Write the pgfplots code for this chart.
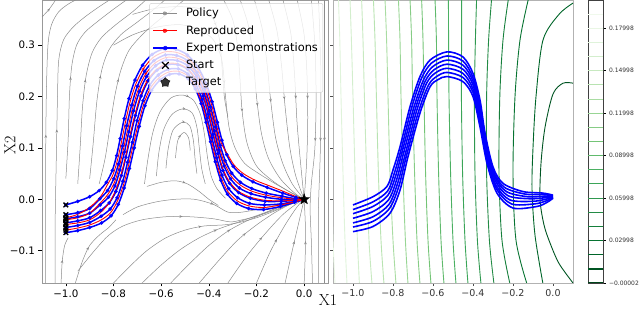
\documentclass[border=0pt]{standalone}
\usepackage{pgfplots}
\pgfplotsset{compat=1.18}
\usepackage{fontspec}
\newfontfamily\dejavu{DejaVu Sans}
\usetikzlibrary{decorations.markings,arrows.meta}

\pgfdeclareplotmark{fstar}{%
 \pgfpathmoveto{\pgfpointpolar{90}{\pgfplotmarksize}}%
 \pgfpathlineto{\pgfpointpolar{126}{0.42\pgfplotmarksize}}%
 \pgfpathlineto{\pgfpointpolar{162}{\pgfplotmarksize}}%
 \pgfpathlineto{\pgfpointpolar{198}{0.42\pgfplotmarksize}}%
 \pgfpathlineto{\pgfpointpolar{234}{\pgfplotmarksize}}%
 \pgfpathlineto{\pgfpointpolar{270}{0.42\pgfplotmarksize}}%
 \pgfpathlineto{\pgfpointpolar{306}{\pgfplotmarksize}}%
 \pgfpathlineto{\pgfpointpolar{342}{0.42\pgfplotmarksize}}%
 \pgfpathlineto{\pgfpointpolar{18}{\pgfplotmarksize}}%
 \pgfpathlineto{\pgfpointpolar{54}{0.42\pgfplotmarksize}}%
 \pgfpathclose\pgfusepathqfillstroke}

\definecolor{c00}{RGB}{0,68,27}
\definecolor{c01}{RGB}{0,84,34}
\definecolor{c02}{RGB}{0,101,41}
\definecolor{c03}{RGB}{7,115,49}
\definecolor{c04}{RGB}{21,127,59}
\definecolor{c05}{RGB}{35,139,69}
\definecolor{c06}{RGB}{47,152,79}
\definecolor{c07}{RGB}{59,165,88}
\definecolor{c08}{RGB}{75,176,98}
\definecolor{c09}{RGB}{96,186,108}
\definecolor{c10}{RGB}{116,196,118}
\definecolor{c11}{RGB}{134,204,133}
\definecolor{c12}{RGB}{152,213,148}
\definecolor{c13}{RGB}{169,220,162}
\definecolor{c14}{RGB}{184,227,177}
\definecolor{c15}{RGB}{199,233,192}
\definecolor{c16}{RGB}{211,238,205}
\definecolor{c17}{RGB}{223,243,218}
\definecolor{c18}{RGB}{233,246,228}
\definecolor{c19}{RGB}{240,249,236}
\definecolor{c20}{RGB}{247,252,245}
\definecolor{pblue}{RGB}{0,0,255}
\definecolor{pred}{RGB}{255,0,0}
\definecolor{sgray}{RGB}{140,140,140}

\pgfplotsset{
 stream/.style={forget plot, draw=sgray, line width=0.5pt, smooth, postaction={decorate},
   decoration={markings, mark=at position 0.5 with {\arrow{Stealth[length=3.2pt,width=2.6pt]}}}},
 demo/.style={forget plot, draw=pblue, line width=1.5pt, smooth, mark=*, mark size=0.9pt, mark options={fill=pblue, draw=pblue}},
 repro/.style={forget plot, draw=pred, line width=0.9pt, smooth, postaction={decorate},
   decoration={markings, mark=at position 0.42 with {\arrow{Stealth[length=3.6pt,width=3pt]}}}},
 cline/.style={forget plot, line width=0.9pt, smooth},
 rtraj/.style={forget plot, draw=pblue, line width=1.6pt, smooth},
}

\begin{document}
\begin{tikzpicture}[x=1pt,y=1pt]
\useasboundingbox (0,0) rectangle (640,310);

% ---------------- left panel ----------------
\begin{axis}[
 at={(42pt,27pt)}, anchor=south west, scale only axis, width=286pt, height=283pt,
 xmin=-1.1, xmax=0.1, ymin=-0.163, ymax=0.388,
 xtick={-1,-0.8,-0.6,-0.4,-0.2,0}, xticklabels={−1.0,−0.8,−0.6,−0.4,−0.2,0.0},
 ytick={-0.1,0,0.1,0.2,0.3}, yticklabels={−0.1,0.0,0.1,0.2,0.3},
 tick pos=left, tick align=outside, major tick length=3.5pt,
 every tick/.style={black, line width=0.6pt},
 axis line style={black!40, line width=0.6pt},
 ticklabel style={font=\dejavu\fontsize{10.3}{12}\selectfont},
 scaled ticks=false,
 legend style={at={(0.983,0.989)}, anchor=north east, draw=black!20, fill=white,
   fill opacity=0.8, text opacity=1, draw opacity=1, rounded corners=2pt,
   font=\dejavu\fontsize{11.4}{13}\selectfont, inner xsep=3pt, inner ysep=3pt, row sep=3.2pt,
   /tikz/every odd column/.append style={column sep=6pt}},
 legend cell align=left,
]
% streamlines (policy)
\addplot[stream] coordinates {(-1.085,-0.163) (-1.085,0.05) (-1.082,0.2) (-1.075,0.3) (-1.06,0.34) (-1.03,0.365) (-0.99,0.38) (-0.95,0.39)};
\addplot[stream] coordinates {(-1.045,-0.163) (-1.045,-0.05) (-1.04,0.08) (-1.035,0.2) (-1.03,0.27) (-1.01,0.31) (-0.97,0.335) (-0.92,0.355) (-0.86,0.375) (-0.81,0.39)};
\addplot[stream] coordinates {(-1.0,0.04) (-0.99,0.12) (-0.985,0.2) (-0.975,0.26) (-0.955,0.3) (-0.92,0.325) (-0.87,0.345) (-0.8,0.37) (-0.74,0.39)};
\addplot[stream] coordinates {(-0.95,0.03) (-0.94,0.1) (-0.93,0.18) (-0.915,0.24) (-0.89,0.285) (-0.85,0.315) (-0.79,0.34) (-0.72,0.365) (-0.66,0.39)};
\addplot[stream] coordinates {(-0.9,0.04) (-0.885,0.11) (-0.87,0.19) (-0.85,0.25) (-0.82,0.29) (-0.77,0.32) (-0.7,0.345) (-0.63,0.37) (-0.58,0.39)};
\addplot[stream] coordinates {(-0.86,0.03) (-0.835,0.08) (-0.815,0.14) (-0.795,0.2) (-0.77,0.25) (-0.735,0.29) (-0.68,0.32) (-0.62,0.345) (-0.55,0.37) (-0.5,0.39)};
\addplot[stream] coordinates {(-1.1,0.355) (-1.07,0.37) (-1.04,0.39)};
\addplot[stream] coordinates {(-0.8,0.3) (-0.72,0.32) (-0.62,0.335) (-0.52,0.34) (-0.44,0.33) (-0.38,0.31) (-0.345,0.27) (-0.33,0.2) (-0.315,0.14) (-0.29,0.1) (-0.25,0.07) (-0.19,0.05) (-0.12,0.03) (-0.05,0.012) (0,0)};
\addplot[stream] coordinates {(-0.72,0.36) (-0.62,0.372) (-0.52,0.375) (-0.43,0.37) (-0.38,0.35) (-0.355,0.31) (-0.345,0.26) (-0.335,0.2) (-0.32,0.16)};
\addplot[stream] coordinates {(-0.34,0.39) (-0.3,0.35) (-0.28,0.3) (-0.27,0.24) (-0.26,0.17) (-0.24,0.11) (-0.2,0.065) (-0.13,0.035) (-0.06,0.014) (0,0)};
\addplot[stream] coordinates {(-0.27,0.39) (-0.235,0.34) (-0.215,0.28) (-0.2,0.2) (-0.18,0.13) (-0.15,0.08) (-0.1,0.04) (-0.04,0.012) (0,0)};
\addplot[stream] coordinates {(-0.21,0.39) (-0.175,0.33) (-0.155,0.26) (-0.14,0.19) (-0.12,0.12) (-0.09,0.07) (-0.05,0.03) (0,0)};
\addplot[stream] coordinates {(-0.15,0.39) (-0.115,0.33) (-0.095,0.26) (-0.08,0.18) (-0.06,0.1) (-0.035,0.045) (0,0)};
\addplot[stream] coordinates {(-0.09,0.39) (-0.055,0.32) (-0.04,0.24) (-0.03,0.15) (-0.015,0.07) (0,0)};
\addplot[stream] coordinates {(-0.03,0.39) (0.0,0.32) (0.012,0.24) (0.015,0.15) (0.01,0.07) (0,0)};
\addplot[stream] coordinates {(0.03,0.39) (0.045,0.3) (0.05,0.2) (0.045,0.1) (0.03,0.03) (0.025,-0.02) (0.03,-0.08) (0.035,-0.163)};
\addplot[stream] coordinates {(0.06,0.39) (0.07,0.25) (0.068,0.1) (0.06,-0.02) (0.06,-0.163)};
\addplot[stream] coordinates {(0.085,0.39) (0.085,0.2) (0.085,0.0) (0.085,-0.163)};
\addplot[stream] coordinates {(0.0,-0.163) (0.005,-0.1) (0.005,-0.05) (0.0,0.0)};
\addplot[stream] coordinates {(-0.08,-0.163) (-0.05,-0.1) (-0.025,-0.05) (0,0)};
\addplot[stream] coordinates {(-0.2,-0.163) (-0.14,-0.1) (-0.08,-0.05) (-0.03,-0.015) (0,0)};
\addplot[stream] coordinates {(-0.32,-0.163) (-0.24,-0.11) (-0.16,-0.065) (-0.09,-0.03) (-0.03,-0.008) (0,0)};
\addplot[stream] coordinates {(-0.44,-0.163) (-0.36,-0.12) (-0.28,-0.08) (-0.2,-0.05) (-0.12,-0.025) (-0.05,-0.008) (0,0)};
\addplot[stream] coordinates {(-0.56,-0.163) (-0.48,-0.125) (-0.4,-0.09) (-0.32,-0.062) (-0.24,-0.042) (-0.16,-0.026) (-0.08,-0.01) (0,0)};
\addplot[stream] coordinates {(-0.68,-0.163) (-0.6,-0.128) (-0.52,-0.098) (-0.44,-0.075) (-0.36,-0.058) (-0.28,-0.045) (-0.2,-0.032) (-0.1,-0.015) (0,0)};
\addplot[stream] coordinates {(-0.8,-0.163) (-0.73,-0.13) (-0.66,-0.1) (-0.58,-0.075) (-0.5,-0.06) (-0.42,-0.052) (-0.34,-0.05) (-0.28,-0.046) (-0.2,-0.036) (-0.12,-0.022) (-0.05,-0.008) (0,0)};
\addplot[stream] coordinates {(-0.95,-0.14) (-0.88,-0.1) (-0.82,-0.07) (-0.76,-0.052) (-0.68,-0.04) (-0.58,-0.034) (-0.48,-0.034) (-0.38,-0.038) (-0.31,-0.044) (-0.26,-0.04) (-0.2,-0.033) (-0.13,-0.022) (-0.06,-0.01) (0,0)};
\addplot[stream] coordinates {(-0.96,-0.163) (-0.93,-0.12) (-0.9,-0.09) (-0.86,-0.07) (-0.82,-0.055) (-0.79,-0.04)};
\addplot[stream] coordinates {(-1.02,-0.163) (-1.015,-0.12) (-1.005,-0.09) (-0.99,-0.075)};
\addplot[stream] coordinates {(-0.76,-0.03) (-0.7,-0.015) (-0.62,-0.005) (-0.54,0.0) (-0.46,0.0) (-0.38,-0.01) (-0.32,-0.025) (-0.26,-0.025) (-0.18,-0.018) (-0.1,-0.01) (0,0)};
\addplot[stream] coordinates {(-0.66,0.025) (-0.6,0.033) (-0.54,0.036) (-0.49,0.03) (-0.44,0.015) (-0.4,0.0) (-0.36,-0.012)};
\addplot[stream] coordinates {(-0.67,0.03) (-0.655,0.08) (-0.635,0.13) (-0.605,0.17) (-0.56,0.197) (-0.51,0.203) (-0.465,0.193) (-0.435,0.165) (-0.418,0.125) (-0.405,0.08) (-0.39,0.045) (-0.365,0.02) (-0.33,0.002)};
\addplot[stream] coordinates {(-0.62,0.045) (-0.61,0.09) (-0.59,0.135) (-0.555,0.165) (-0.51,0.176) (-0.47,0.168) (-0.45,0.14) (-0.44,0.1) (-0.43,0.06) (-0.415,0.03)};
\addplot[stream] coordinates {(-0.58,0.06) (-0.57,0.1) (-0.55,0.135) (-0.51,0.15) (-0.48,0.143) (-0.465,0.115) (-0.458,0.08) (-0.45,0.05)};
\addplot[stream] coordinates {(-0.54,0.08) (-0.53,0.115) (-0.505,0.13) (-0.485,0.12) (-0.478,0.095)};

% expert demonstrations
\addplot[demo] coordinates {(-1.000,-0.011) (-0.950,-0.004) (-0.900,0.005) (-0.860,0.017) (-0.830,0.033) (-0.805,0.056) (-0.787,0.085) (-0.772,0.118) (-0.755,0.157) (-0.735,0.196) (-0.710,0.232) (-0.678,0.261) (-0.638,0.282) (-0.588,0.293) (-0.538,0.292) (-0.490,0.281) (-0.447,0.258) (-0.412,0.226) (-0.386,0.190) (-0.364,0.150) (-0.345,0.115) (-0.325,0.087) (-0.298,0.064) (-0.262,0.047) (-0.215,0.034) (-0.155,0.023) (-0.090,0.012) (-0.035,0.004) (0,0)};
\addplot[demo] coordinates {(-1.000,-0.030) (-0.950,-0.026) (-0.900,-0.018) (-0.857,0.001) (-0.825,0.017) (-0.799,0.040) (-0.779,0.069) (-0.762,0.104) (-0.745,0.143) (-0.724,0.183) (-0.700,0.220) (-0.669,0.249) (-0.630,0.270) (-0.582,0.281) (-0.535,0.280) (-0.490,0.270) (-0.450,0.247) (-0.417,0.216) (-0.393,0.180) (-0.371,0.141) (-0.352,0.105) (-0.331,0.075) (-0.304,0.051) (-0.267,0.033) (-0.220,0.021) (-0.159,0.012) (-0.093,0.006) (-0.036,0.001) (0,0)};
\addplot[demo] coordinates {(-1.000,-0.038) (-0.950,-0.034) (-0.900,-0.027) (-0.856,-0.011) (-0.821,0.004) (-0.794,0.026) (-0.773,0.057) (-0.754,0.092) (-0.736,0.131) (-0.716,0.172) (-0.691,0.210) (-0.661,0.239) (-0.623,0.260) (-0.578,0.271) (-0.532,0.270) (-0.489,0.260) (-0.452,0.239) (-0.421,0.208) (-0.398,0.172) (-0.377,0.133) (-0.358,0.096) (-0.336,0.065) (-0.309,0.040) (-0.272,0.022) (-0.223,0.011) (-0.162,0.004) (-0.095,0.000) (-0.037,-0.001) (0,0)};
\addplot[demo] coordinates {(-1.000,-0.046) (-0.950,-0.042) (-0.900,-0.036) (-0.854,-0.022) (-0.818,-0.007) (-0.790,0.015) (-0.767,0.046) (-0.748,0.082) (-0.729,0.122) (-0.708,0.163) (-0.684,0.201) (-0.654,0.231) (-0.618,0.251) (-0.574,0.262) (-0.530,0.262) (-0.489,0.253) (-0.453,0.231) (-0.424,0.201) (-0.402,0.165) (-0.382,0.126) (-0.362,0.089) (-0.341,0.056) (-0.313,0.031) (-0.275,0.013) (-0.226,0.002) (-0.164,-0.004) (-0.096,-0.004) (-0.038,-0.002) (0,0)};
\addplot[demo] coordinates {(-1.000,-0.055) (-0.950,-0.051) (-0.900,-0.045) (-0.852,-0.033) (-0.814,-0.019) (-0.785,0.003) (-0.761,0.035) (-0.741,0.072) (-0.721,0.111) (-0.701,0.153) (-0.676,0.192) (-0.648,0.222) (-0.612,0.242) (-0.570,0.253) (-0.528,0.254) (-0.488,0.244) (-0.455,0.224) (-0.428,0.194) (-0.407,0.158) (-0.387,0.120) (-0.367,0.081) (-0.345,0.047) (-0.317,0.021) (-0.279,0.003) (-0.229,-0.008) (-0.167,-0.011) (-0.098,-0.009) (-0.039,-0.004) (0,0)};
\addplot[demo] coordinates {(-1.000,-0.065) (-0.950,-0.061) (-0.900,-0.055) (-0.850,-0.046) (-0.810,-0.032) (-0.780,-0.010) (-0.755,0.022) (-0.733,0.060) (-0.713,0.100) (-0.692,0.142) (-0.668,0.182) (-0.640,0.212) (-0.605,0.232) (-0.565,0.243) (-0.525,0.244) (-0.488,0.235) (-0.457,0.215) (-0.432,0.186) (-0.412,0.150) (-0.393,0.112) (-0.373,0.073) (-0.350,0.037) (-0.322,0.010) (-0.283,-0.008) (-0.233,-0.018) (-0.170,-0.020) (-0.100,-0.014) (-0.040,-0.006) (0,0)};

% reproduced
\addplot[repro] coordinates {(-1.000,-0.036) (-0.960,-0.031) (-0.920,-0.022) (-0.880,-0.008) (-0.850,0.008) (-0.826,0.028) (-0.802,0.048) (-0.783,0.077) (-0.767,0.111) (-0.750,0.150) (-0.730,0.190) (-0.705,0.226) (-0.673,0.255) (-0.634,0.276) (-0.585,0.287) (-0.536,0.286) (-0.490,0.276) (-0.448,0.253) (-0.414,0.221) (-0.389,0.185) (-0.368,0.145) (-0.348,0.110) (-0.322,0.088) (-0.293,0.066) (-0.255,0.050) (-0.205,0.037) (-0.145,0.026) (-0.085,0.015) (-0.033,0.005) (0,0)};
\addplot[repro] coordinates {(-1.000,-0.040) (-0.950,-0.036) (-0.900,-0.027) (-0.857,-0.008) (-0.823,0.010) (-0.796,0.033) (-0.776,0.063) (-0.758,0.098) (-0.740,0.137) (-0.720,0.177) (-0.695,0.215) (-0.665,0.244) (-0.626,0.265) (-0.580,0.276) (-0.534,0.275) (-0.489,0.265) (-0.451,0.243) (-0.419,0.212) (-0.395,0.176) (-0.374,0.137) (-0.355,0.100) (-0.334,0.070) (-0.306,0.045) (-0.269,0.028) (-0.221,0.016) (-0.160,0.008) (-0.094,0.003) (-0.036,0.000) (0,0)};
\addplot[repro] coordinates {(-1.000,-0.049) (-0.950,-0.046) (-0.900,-0.040) (-0.855,-0.026) (-0.818,-0.007) (-0.791,0.018) (-0.768,0.049) (-0.749,0.084) (-0.731,0.124) (-0.710,0.165) (-0.686,0.203) (-0.656,0.233) (-0.619,0.253) (-0.575,0.264) (-0.531,0.264) (-0.489,0.254) (-0.453,0.233) (-0.424,0.203) (-0.401,0.167) (-0.381,0.128) (-0.361,0.091) (-0.340,0.058) (-0.312,0.033) (-0.274,0.015) (-0.225,0.004) (-0.164,-0.002) (-0.096,-0.003) (-0.038,-0.002) (0,0)};
\addplot[repro] coordinates {(-1.000,-0.060) (-0.950,-0.056) (-0.900,-0.050) (-0.851,-0.040) (-0.812,-0.026) (-0.783,-0.003) (-0.758,0.028) (-0.737,0.066) (-0.717,0.106) (-0.696,0.147) (-0.672,0.187) (-0.644,0.217) (-0.608,0.237) (-0.567,0.248) (-0.526,0.249) (-0.488,0.240) (-0.456,0.219) (-0.430,0.190) (-0.409,0.154) (-0.390,0.116) (-0.370,0.077) (-0.348,0.042) (-0.320,0.015) (-0.281,-0.003) (-0.231,-0.013) (-0.169,-0.016) (-0.099,-0.011) (-0.040,-0.005) (0,0)};

% start and target
\addplot[forget plot, only marks, mark=x, mark size=3.3pt, black, mark options={line width=1.3pt}] coordinates {(-1,-0.011) (-1,-0.030) (-1,-0.036) (-1,-0.038) (-1,-0.040) (-1,-0.046) (-1,-0.049) (-1,-0.055) (-1,-0.060) (-1,-0.065)};
\addplot[forget plot, only marks, mark=fstar, mark size=5.5pt, black, mark options={fill=black, line width=0.4pt}] coordinates {(0,0)};

% legend
\addlegendimage{legend image code/.code={\draw[sgray,line width=0.7pt] (0pt,0pt)--(24pt,0pt); \fill[sgray] (15pt,0pt)--(10pt,2.3pt)--(10pt,-2.3pt)--cycle;}}
\addlegendentry{Policy}
\addlegendimage{legend image code/.code={\draw[pred,line width=0.9pt] (0pt,0pt)--(24pt,0pt); \fill[pred] (15pt,0pt)--(10pt,2.5pt)--(10pt,-2.5pt)--cycle;}}
\addlegendentry{Reproduced}
\addlegendimage{legend image code/.code={\draw[pblue,line width=1.4pt] (0pt,0pt)--(24pt,0pt); \fill[pblue] (12pt,0pt) circle (2pt);}}
\addlegendentry{Expert Demonstrations}
\addlegendimage{legend image code/.code={\draw[black,line width=1.3pt] (8.7pt,-3.3pt)--(15.3pt,3.3pt) (8.7pt,3.3pt)--(15.3pt,-3.3pt);}}
\addlegendentry{Start}
\addlegendimage{legend image code/.code={\fill[black] (12pt,0pt) +(90:6pt) -- +(126:2.4pt) -- +(162:6pt) -- +(198:2.4pt) -- +(234:6pt) -- +(270:2.4pt) -- +(306:6pt) -- +(342:2.4pt) -- +(18:6pt) -- +(54:2.4pt) -- cycle;}}
\addlegendentry{Target}
\end{axis}

% ---------------- right panel ----------------
\begin{axis}[
 at={(333pt,27pt)}, anchor=south west, scale only axis, width=240pt, height=283pt,
 xmin=-1.1, xmax=0.1, ymin=-0.163, ymax=0.388,
 xtick={-1,-0.8,-0.6,-0.4,-0.2,0}, xticklabels={−1.0,−0.8,−0.6,−0.4,−0.2,0.0},
 ytick={-0.1,0,0.1,0.2,0.3}, yticklabels={},
 tick pos=left, tick align=outside, major tick length=3pt,
 every tick/.style={black!70, line width=0.5pt},
 axis line style={black!30, line width=0.6pt},
 ticklabel style={font=\dejavu\fontsize{9.5}{11}\selectfont, text=black!80},
 scaled ticks=false,
]
\addplot[cline, draw=c18] coordinates {(-1.13,0.39) (-1.12,0.2) (-1.11,0.05) (-1.1,-0.08) (-1.09,-0.165)};
\addplot[cline, draw=c17] coordinates {(-1.073,0.39) (-1.066,0.31) (-1.06,0.2) (-1.05,0.05) (-1.04,-0.08) (-1.03,-0.165)};
\addplot[cline, draw=c16] coordinates {(-1.015,0.39) (-1.008,0.31) (-1.0,0.2) (-0.99,0.05) (-0.978,-0.08) (-0.968,-0.165)};
\addplot[cline, draw=c15] coordinates {(-0.957,0.39) (-0.95,0.31) (-0.943,0.2) (-0.932,0.05) (-0.92,-0.08) (-0.905,-0.165)};
\addplot[cline, draw=c14] coordinates {(-0.898,0.39) (-0.89,0.31) (-0.883,0.2) (-0.873,0.05) (-0.86,-0.08) (-0.845,-0.165)};
\addplot[cline, draw=c13] coordinates {(-0.84,0.39) (-0.832,0.31) (-0.825,0.2) (-0.815,0.05) (-0.80,-0.08) (-0.785,-0.165)};
\addplot[cline, draw=c12] coordinates {(-0.773,0.39) (-0.765,0.31) (-0.76,0.2) (-0.75,0.05) (-0.738,-0.08) (-0.725,-0.165)};
\addplot[cline, draw=c11] coordinates {(-0.715,0.39) (-0.707,0.31) (-0.702,0.2) (-0.692,0.05) (-0.68,-0.08) (-0.665,-0.165)};
\addplot[cline, draw=c10] coordinates {(-0.657,0.39) (-0.65,0.31) (-0.645,0.2) (-0.637,0.05) (-0.625,-0.08) (-0.61,-0.165)};
\addplot[cline, draw=c09] coordinates {(-0.59,0.39) (-0.583,0.31) (-0.58,0.2) (-0.572,0.05) (-0.56,-0.08) (-0.545,-0.165)};
\addplot[cline, draw=c08] coordinates {(-0.523,0.39) (-0.522,0.31) (-0.52,0.2) (-0.512,0.05) (-0.5,-0.08) (-0.485,-0.165)};
\addplot[cline, draw=c07] coordinates {(-0.457,0.39) (-0.457,0.31) (-0.458,0.2) (-0.452,0.05) (-0.44,-0.08) (-0.425,-0.165)};
\addplot[cline, draw=c06] coordinates {(-0.382,0.39) (-0.388,0.31) (-0.393,0.2) (-0.39,0.05) (-0.378,-0.08) (-0.36,-0.165)};
\addplot[cline, draw=c05] coordinates {(-0.307,0.39) (-0.322,0.31) (-0.332,0.2) (-0.332,0.05) (-0.318,-0.08) (-0.295,-0.165)};
\addplot[cline, draw=c04] coordinates {(-0.223,0.39) (-0.25,0.31) (-0.266,0.2) (-0.27,0.05) (-0.255,-0.08) (-0.215,-0.165)};
\addplot[cline, draw=c03] coordinates {(-0.123,0.39) (-0.165,0.31) (-0.19,0.2) (-0.2,0.05) (-0.185,-0.08) (-0.13,-0.165)};
\addplot[cline, draw=c02] coordinates {(0.1,0.382) (0.03,0.36) (-0.05,0.31) (-0.085,0.2) (-0.1,0.1) (-0.105,0.02) (-0.09,-0.07) (-0.05,-0.165)};
\addplot[cline, draw=c01] coordinates {(0.1,0.226) (0.05,0.226) (0.0,0.205) (-0.04,0.14) (-0.06,0.07) (-0.065,0.0) (-0.045,-0.05) (-0.015,-0.085) (0.03,-0.125) (0.1,-0.163)};

% trajectories
\addplot[rtraj] coordinates {(-1.000,-0.011) (-0.900,0.005) (-0.830,0.025) (-0.800,0.057) (-0.765,0.102) (-0.715,0.180) (-0.665,0.239) (-0.615,0.271) (-0.530,0.287) (-0.450,0.277) (-0.400,0.245) (-0.365,0.193) (-0.340,0.129) (-0.300,0.063) (-0.250,0.031) (-0.150,0.015) (-0.050,0.012) (0.000,0.008)};
\addplot[rtraj] coordinates {(-1.000,-0.020) (-0.900,-0.005) (-0.827,0.016) (-0.794,0.050) (-0.758,0.099) (-0.707,0.178) (-0.657,0.236) (-0.608,0.265) (-0.530,0.279) (-0.450,0.269) (-0.400,0.237) (-0.365,0.184) (-0.338,0.119) (-0.297,0.054) (-0.242,0.023) (-0.138,0.010) (-0.047,0.009) (0.000,0.007)};
\addplot[rtraj] coordinates {(-1.000,-0.028) (-0.900,-0.014) (-0.825,0.008) (-0.788,0.044) (-0.752,0.096) (-0.698,0.176) (-0.648,0.232) (-0.602,0.258) (-0.530,0.271) (-0.450,0.261) (-0.400,0.230) (-0.365,0.176) (-0.337,0.110) (-0.293,0.046) (-0.233,0.015) (-0.127,0.005) (-0.043,0.006) (0.000,0.006)};
\addplot[rtraj] coordinates {(-1.000,-0.037) (-0.900,-0.024) (-0.822,-0.001) (-0.782,0.038) (-0.745,0.093) (-0.690,0.174) (-0.640,0.229) (-0.595,0.252) (-0.530,0.263) (-0.450,0.253) (-0.400,0.223) (-0.365,0.167) (-0.335,0.100) (-0.290,0.038) (-0.225,0.007) (-0.115,0.001) (-0.040,0.003) (0.000,0.005)};
\addplot[rtraj] coordinates {(-1.000,-0.046) (-0.900,-0.034) (-0.820,-0.010) (-0.777,0.031) (-0.738,0.089) (-0.682,0.172) (-0.632,0.226) (-0.588,0.246) (-0.530,0.255) (-0.450,0.245) (-0.400,0.215) (-0.365,0.158) (-0.333,0.089) (-0.287,0.029) (-0.217,-0.001) (-0.103,-0.004) (-0.037,0.000) (0.000,0.004)};
\addplot[rtraj] coordinates {(-1.000,-0.054) (-0.900,-0.043) (-0.818,-0.018) (-0.771,0.025) (-0.732,0.086) (-0.673,0.170) (-0.623,0.222) (-0.582,0.239) (-0.530,0.247) (-0.450,0.237) (-0.400,0.208) (-0.365,0.150) (-0.332,0.080) (-0.283,0.021) (-0.208,-0.009) (-0.092,-0.009) (-0.033,-0.003) (0.000,0.003)};
\addplot[rtraj] coordinates {(-1.000,-0.063) (-0.900,-0.053) (-0.815,-0.027) (-0.765,0.018) (-0.725,0.083) (-0.665,0.168) (-0.615,0.219) (-0.575,0.233) (-0.530,0.239) (-0.450,0.229) (-0.400,0.200) (-0.365,0.141) (-0.330,0.070) (-0.280,0.012) (-0.200,-0.017) (-0.080,-0.014) (-0.030,-0.006) (0.000,0.002)};
\end{axis}

% ---------------- colorbar ----------------
\begin{axis}[
 at={(588pt,27pt)}, anchor=south west, scale only axis, width=15pt, height=283pt,
 xmin=0, xmax=1, ymin=-0.00002, ymax=0.19998,
 xtick=\empty,
 ytick={-0.00002,0.02998,0.05998,0.08998,0.11998,0.14998,0.17998},
 yticklabels={−0.00002,0.02998,0.05998,0.08998,0.11998,0.14998,0.17998},
 yticklabel pos=right, ytick pos=right, tick align=outside, major tick length=2.5pt,
 every tick/.style={black, line width=0.5pt},
 axis line style={black!75, line width=0.6pt},
 ticklabel style={font=\dejavu\fontsize{6}{7}\selectfont, text=black!80},
 scaled ticks=false,
]
\addplot[c00, line width=1.4pt] coordinates {(0,-0.00002) (1,-0.00002)};
\addplot[c01, line width=1.4pt] coordinates {(0,0.00998) (1,0.00998)};
\addplot[c02, line width=1pt] coordinates {(0,0.01998) (1,0.01998)};
\addplot[c03, line width=1pt] coordinates {(0,0.02998) (1,0.02998)};
\addplot[c04, line width=1pt] coordinates {(0,0.03998) (1,0.03998)};
\addplot[c05, line width=1pt] coordinates {(0,0.04998) (1,0.04998)};
\addplot[c06, line width=1pt] coordinates {(0,0.05998) (1,0.05998)};
\addplot[c07, line width=1pt] coordinates {(0,0.06998) (1,0.06998)};
\addplot[c08, line width=1pt] coordinates {(0,0.07998) (1,0.07998)};
\addplot[c09, line width=1.4pt] coordinates {(0,0.08998) (1,0.08998)};
\addplot[c10, line width=1pt] coordinates {(0,0.09998) (1,0.09998)};
\addplot[c11, line width=1pt] coordinates {(0,0.10998) (1,0.10998)};
\addplot[c12, line width=1pt] coordinates {(0,0.11998) (1,0.11998)};
\addplot[c13, line width=1pt] coordinates {(0,0.12998) (1,0.12998)};
\addplot[c14, line width=1pt] coordinates {(0,0.13998) (1,0.13998)};
\addplot[c15, line width=1pt] coordinates {(0,0.14998) (1,0.14998)};
\addplot[c16, line width=1pt] coordinates {(0,0.15998) (1,0.15998)};
\addplot[c17, line width=1pt] coordinates {(0,0.16998) (1,0.16998)};
\addplot[c18, line width=1pt] coordinates {(0,0.17998) (1,0.17998)};
\addplot[c19, line width=1pt] coordinates {(0,0.18998) (1,0.18998)};
\end{axis}

\node[font=\fontsize{16}{18}\selectfont] at (328,10) {X1};
\node[font=\fontsize{16}{18}\selectfont, rotate=90] at (10,165) {X2};
\end{tikzpicture}
\end{document}
